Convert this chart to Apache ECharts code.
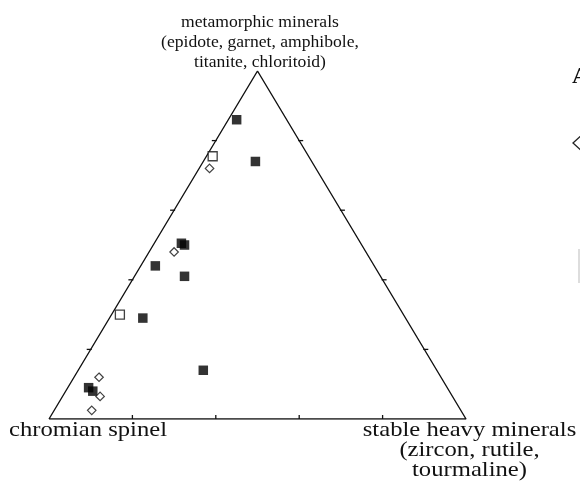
<!DOCTYPE html>
<html>
<head>
<meta charset="utf-8">
<title>Heavy mineral ternary diagram</title>
<script src="https://cdn.jsdelivr.net/npm/echarts@6/dist/echarts.min.js"></script>
<style>
  html, body { margin: 0; padding: 0; background: #fff; }
  #chart { width: 580px; height: 487px; }
</style>
</head>
<body>
<div id="chart"></div>
<script>
// Compositions in percent: metamorphic / stable heavy minerals / chromian spinel
const solidMeta    = [86, 74, 50.5, 50, 44, 41, 29, 14, 9, 8];
const solidStable  = [2, 12.5, 6.5, 7.5, 3.5, 12, 8, 30, 5, 6.5];
const solidSpinel  = [12, 13.5, 43, 42.5, 52.5, 47, 63, 56, 86, 85.5];

const openSqMeta   = [75.5, 30];
const openSqStable = [1.5, 2];
const openSqSpinel = [23, 68];

const diamondMeta   = [72, 48, 12, 6.5, 2.5];
const diamondStable = [2.5, 6, 6, 9, 9];
const diamondSpinel = [25.5, 46, 82, 84.5, 88.5];

// Tick marks every 20 % along each edge
const tickFractions = [0.2, 0.4, 0.6, 0.8];

// Apex compositions: spinel, stable, metamorphic, back to spinel
const apexMeta   = [0, 0, 100, 0];
const apexStable = [0, 100, 0, 0];
const apexSpinel = [100, 0, 0, 100];

// Ternary -> cartesian (x across the base, y toward the metamorphic apex)
function toXY(m, s, c) {
  const t = m + s + c;
  const fm = m / t, fs = s / t;
  return [fs + fm / 2, fm];
}
function points(ms, ss, cs) {
  return ms.map((m, i) => toXY(m, ss[i], cs[i]));
}

const ticks = [];
tickFractions.forEach(f => {
  ticks.push(['base', f]);
  ticks.push(['left', f]);
  ticks.push(['right', f]);
});

const chart = echarts.init(document.getElementById('chart'), null, { renderer: 'canvas' });

const serif = '"Liberation Serif", "DejaVu Serif", serif';

chart.setOption({
  backgroundColor: '#ffffff',
  animation: false,
  grid: { left: 49, right: 114, top: 71, bottom: 68 },
  xAxis: { type: 'value', min: 0, max: 1, show: false },
  yAxis: { type: 'value', min: 0, max: 1, show: false },
  series: [
    {
      name: 'outline',
      type: 'line',
      data: points(apexMeta, apexStable, apexSpinel),
      symbol: 'none',
      lineStyle: { color: '#111', width: 1.4 },
      z: 1
    },
    {
      name: 'ticks',
      type: 'custom',
      data: ticks,
      renderItem: function (params, api) {
        const edge = ticks[params.dataIndex][0];
        const f = ticks[params.dataIndex][1];
        let p, a, b;
        if (edge === 'base') {
          p = api.coord([f, 0]);
          a = [p[0], p[1]]; b = [p[0], p[1] - 4];
        } else if (edge === 'left') {
          p = api.coord([f / 2, f]);
          a = [p[0] - 4, p[1]]; b = [p[0] + 1, p[1]];
        } else {
          p = api.coord([1 - f / 2, f]);
          a = [p[0] - 1, p[1]]; b = [p[0] + 4, p[1]];
        }
        return {
          type: 'line',
          shape: { x1: a[0], y1: a[1], x2: b[0], y2: b[1] },
          style: { stroke: '#111', lineWidth: 1.3 }
        };
      },
      z: 1
    },
    {
      name: 'solid squares',
      type: 'scatter',
      data: points(solidMeta, solidStable, solidSpinel),
      symbol: 'rect',
      symbolSize: 9.5,
      itemStyle: { color: '#000' },
      z: 3
    },
    {
      name: 'open squares',
      type: 'scatter',
      data: points(openSqMeta, openSqStable, openSqSpinel),
      symbol: 'rect',
      symbolSize: 9,
      itemStyle: { color: '#fff', borderColor: '#111', borderWidth: 1.3 },
      z: 4
    },
    {
      name: 'open diamonds',
      type: 'scatter',
      data: points(diamondMeta, diamondStable, diamondSpinel),
      symbol: 'diamond',
      symbolSize: [8.5, 8.5],
      itemStyle: { color: '#fff', borderColor: '#111', borderWidth: 1.2 },
      z: 4
    }
  ],
  graphic: [
    {
      type: 'text',
      style: {
        x: 260, y: 11.8,
        text: 'metamorphic minerals\n(epidote, garnet, amphibole,\ntitanite, chloritoid)',
        font: '17.6px ' + serif, fill: '#111',
        align: 'center', verticalAlign: 'top', lineHeight: 20.3
      }
    },
    {
      type: 'text',
      originX: 9, originY: 430, scaleX: 1.12,
      style: {
        x: 9, y: 430,
        text: 'chromian spinel',
        font: '22px ' + serif, fill: '#111',
        align: 'left', verticalAlign: 'middle'
      }
    },
    {
      type: 'text',
      originX: 469.5, originY: 420, scaleX: 1.12,
      style: {
        x: 469.5, y: 420,
        text: 'stable heavy minerals\n(zircon, rutile,\ntourmaline)',
        font: '22px ' + serif, fill: '#111',
        align: 'center', verticalAlign: 'top', lineHeight: 20
      }
    },
    {
      type: 'text',
      style: {
        x: 572, y: 77,
        text: 'A',
        font: 'bold 24px ' + serif, fill: '#111',
        align: 'left', verticalAlign: 'middle'
      }
    },
    {
      type: 'polygon',
      shape: { points: [[573, 143], [583, 134], [593, 143], [583, 152]] },
      style: { fill: '#fff', stroke: '#222', lineWidth: 1.3 }
    },
    {
      type: 'line',
      shape: { x1: 579, y1: 249, x2: 579, y2: 283 },
      style: { stroke: '#bbb', lineWidth: 1 }
    }
  ]
});
</script>
</body>
</html>
